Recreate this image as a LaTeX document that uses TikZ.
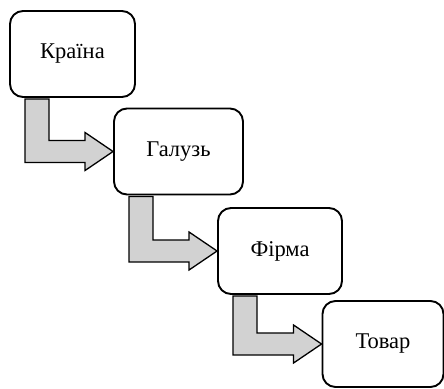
\documentclass[tikz,border=0pt]{standalone}
\usepackage{fontspec}
\setmainfont{Liberation Serif}
\usetikzlibrary{calc}

\newcommand{\bentarrow}[2]{%
    \draw[bentarrow] let \p1=(#1.south west), \p2=(#2.west) in
        (\x1+16,\y1-1) -- (\x1+40,\y1-1) -- (\x1+40,\y2+11) -- (\x2-28,\y2+11)
        -- (\x2-28,\y2+19) -- (\x2,\y2) -- (\x2-28,\y2-19) -- (\x2-28,\y2-11)
        -- (\x1+16,\y2-11) -- cycle;%
}

\begin{document}
\begin{tikzpicture}[
        x=1pt, y=-1pt,
        every node/.style={font=\fontsize{22.5}{27}\selectfont},
        level/.style={rectangle, draw, line width=1.9pt, rounded corners=13pt, fill=white, minimum width=#1, minimum height=86pt, inner sep=0pt},
        bentarrow/.style={draw, line width=1.3pt, fill=gray!35, line join=miter}
    ]
    \useasboundingbox (0,0) rectangle (444,388);
%
    \node[level=125pt] (kraina) at (72.5,54) {Країна};
    \node[level=129pt] (haluz) at (178.5,151.5) {Галузь};
    \node[level=124pt] (firma) at (280,251) {Фірма};
    \node[level=121pt] (tovar) at (383,344) {Товар};
%
    \bentarrow{kraina}{haluz}
    \bentarrow{haluz}{firma}
    \bentarrow{firma}{tovar}
%
\end{tikzpicture}
\end{document}
